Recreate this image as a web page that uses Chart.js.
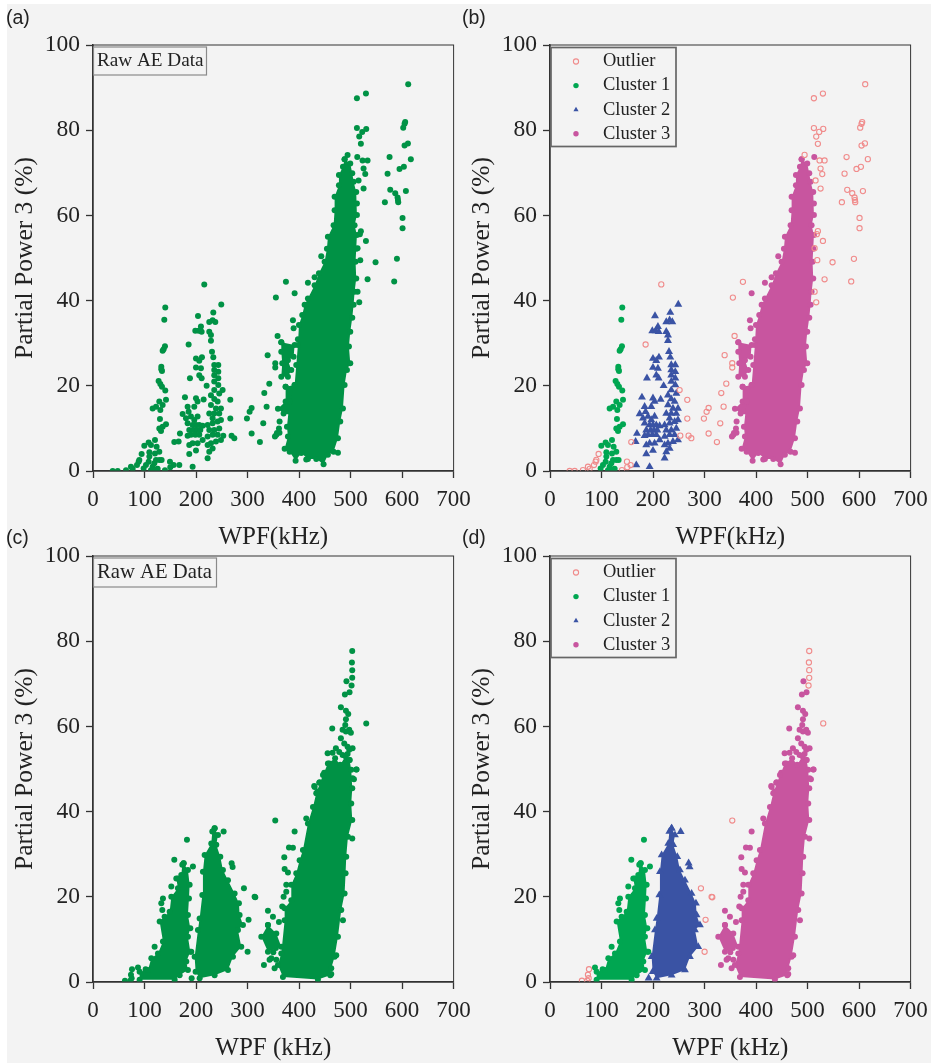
<!DOCTYPE html>
<html>
<head>
<meta charset="utf-8">
<script src="https://cdn.jsdelivr.net/npm/chart.js@4/dist/chart.umd.min.js"></script>
<style>
    html, body { margin: 0; padding: 0; background: #fff; width: 936px; height: 1063px; overflow: hidden; }
    #sheet { position: absolute; left: 7px; top: 4px; width: 924px; height: 1059px; background: #f3f3f3; }
    canvas { position: absolute; }
    .tag { position: absolute; font: 19.5px "Liberation Sans", sans-serif; color: #222; }
</style>
</head>
<body>
<div id="sheet"></div>
<canvas id="panelA" width="480" height="553" style="left:0;top:0"></canvas>
<canvas id="panelB" width="480" height="553" style="left:457px;top:0"></canvas>
<canvas id="panelC" width="480" height="553" style="left:0;top:511px"></canvas>
<canvas id="panelD" width="480" height="553" style="left:457px;top:511px"></canvas>
<div class="tag" style="left:6px;top:6px">(a)</div>
<div class="tag" style="left:462px;top:6px">(b)</div>
<div class="tag" style="left:6px;top:526px">(c)</div>
<div class="tag" style="left:462px;top:526px">(d)</div>
<script>
const wpfTicks = [0, 100, 200, 300, 400, 500, 600, 700];
const powerTicks = [0, 20, 40, 60, 80, 100];
const legendLabels = ['Outlier', 'Cluster 1', 'Cluster 2', 'Cluster 3'];

// Specimen 1 (panels a, b) - [WPF kHz, partial power %]
const outliersTop = [
    [611.9,90.8],[529.8,88.6],[512.3,87.5],[604.8,81.5],[606,81.9],[602.2,80.6],[512.3,80.5],[530.4,80.3],[522.6,79.6],[516.8,78.5],
    [520,76.8],[611.3,76.9],[604.8,76.4],[494.2,74.2],[575.7,73.7],[617,73.2],[523.3,72.9],[533,72.9],[525.2,71],[603.5,71.4],
    [595,70.9],[528.5,69.7],[571.8,69.8],[515.5,68.2],[525.2,66.3],[607.4,65.7],[577,66],[586.7,65.2],[591.2,64.2],[591.9,63.6],
    [592.5,63.1],[566.6,63.1],[600.9,59.4],[600.9,57],[520,56.3],[518,55.6],[529.8,54],[513.6,52.3],[590,49.8],[548.5,49],
    [518.8,49.5],[533,45],[584.7,44.5],[216,43.8],[374.5,44.4],[355,40.7],[513.6,42.1],[516.8,39.6],[358.3,31.7],[185.6,29.7],
    [339,27.2],[353.8,25.3],[353.8,24.3],[342.2,20.5],[251.6,19],[332.5,18.3],[266.5,16.7],[337,15.1],[307.9,14.8],[304,13.9],
    [298.8,12.3],[266.5,12.3],[330.5,11.2],[307.9,8.8],[252.9,8.3],[269,8.3],[274.3,7.7],[324,6.8],[157.8,6.8],[94.4,4],
    [89.9,2.6],[88.6,2.2],[85.4,1.4],[73.7,1],[77,0.5],[64,0.2],[47.9,0],[38.2,0],[149.4,2.2],[156.5,1.4],[150,0.9],[139.7,0.2]
];
const cluster1Top = [
    [140.3,38.4],[138.4,35.5],[139.7,29.3],[137.1,28.6],[135.2,28.2],[132.6,24.5],[132.6,23.9],[133.9,23.5],[127.4,21.1],[130.7,20.4],
    [133.9,19.8],[140.3,18.9],[141.7,16.7],[128.7,16.3],[135.2,15.5],[122.4,15.1],[115.8,14.7],[130.7,14.3],[130,12.2],[141.7,11],
    [135.2,10.4],[128.7,10],[132,9.4],[120.3,7.3],[108,6.7],[99.6,5.9],[112.5,6.1],[123.5,5.7],[109.4,4.4],[128.7,4.5],
    [120.3,4.1],[133.2,2.6],[122.3,2.6],[108,2.2],[102.8,1.4],[98.3,0.6],[115.8,1],[125.5,0.5],[112.5,0.2],[120.3,0.2],
    [109.4,3.4],[128.7,2.6],[119,1.8]
];
const cluster2Top = [
    [249,39.1],[233.5,37.2],[203.8,36.4],[232.2,35.4],[225.7,35],[237.4,35],[209.5,33.9],[198.6,32.9],[205,32.9],[210.9,32.7],
    [225.7,32.7],[229,31.9],[229,30.6],[231,28],[233.5,26.7],[211.5,26.7],[199.9,26.4],[206.3,25.9],[235.4,24.9],[243.2,24.9],
    [199.9,24.3],[209.5,24.1],[235.4,23.7],[243.2,23.3],[206.3,22.5],[235.4,22.5],[243.2,21.8],[188.2,21.8],[210.9,21.8],[235.4,21],
    [243.2,20.2],[220.6,20],[235.4,19],[245.1,18.2],[229,17.8],[178.5,17.3],[214.8,16.8],[199.9,17.1],[235.4,16.9],[241.9,16.3],
    [203,16.3],[183.7,15.1],[196.6,15.1],[229,15.5],[238.7,14.7],[248.4,14.7],[185.6,13.9],[174,13.4],[225.7,13.5],[235.4,13.5],
    [245.1,13.5],[168.8,8.8],[166.2,6.9],[180.5,12.4],[190.2,12.8],[183.7,11.2],[196.6,12],[203,12.8],[193.4,10.8],[199.9,10.8],
    [206.3,10.8],[186.9,9.6],[195.3,9.6],[201.8,9.6],[208.3,9.6],[190.2,8.5],[198.6,8.5],[183.7,8.3],[206.3,8.5],[193.4,6.5],
    [203,6.5],[186.9,6.1],[212.8,7.3],[186.9,4],[199.9,4.8],[167.5,1.4],[193.4,1],[212.8,10.6],[222.5,10.8],[232.2,11.2],
    [241.9,11.6],[248.4,12],[225.7,9.6],[235.4,9.6],[245.1,10],[222.5,8.1],[232.2,8.5],[241.9,8.5],[248.4,7.3],[238.7,6.9],
    [229,6.5],[222.5,6.1],[232.2,5.3],[225.7,4.5],[222.5,3],[232.2,12.4]
];
const cluster3TopEdge = [
    [488.4,73.2],[499.4,72.2],[503.3,69.9],[505.9,67.9],[511,65.5],[512.3,62.8],[512.3,60.1],[507.8,57.7],[512.3,55.4],[511,52.2],
    [509.7,49.1],[511,45.2],[507.8,42.1],[505.9,39],[503.3,36],[499.4,32.7],[496.8,29.2],[499.4,25.3],[493,23.7],[488.4,20.2],
    [485.2,14.7],[480,11.6],[475.5,7.7],[467,4.5],[456,3.8],[447.6,1.6],[433.4,2.8],[417.2,2.8],[404.3,4.2],[393.3,2.4],
    [381.7,4.5],[372,5.2],[378.4,8.1],[376.5,10.4],[381.7,16.3],[391.4,20.2],[394.6,24.9],[397.8,29.6],[399.8,34.3],[406.2,36.6],
    [410.8,39],[417.2,40.5],[430.2,43.6],[438.6,46.4],[449.6,49.1],[454.1,52.2],[456,55],[467,57.7],[469,61.2],[469,64.4],
    [477.4,67.1],[477.4,69.5],[485.2,71.4],[488.4,73.2]
];
const cluster3TopLobeHigh = [
    [365.5,30.2],[391.4,29.6],[389.4,26.8],[378.4,26],[384.9,23.7],[378.4,22.1],[365.5,22.1],[367.4,25.3],[365.5,28],[365.5,30.2]
];
const cluster3TopLobeLow = [
    [373.9,19.8],[391.4,20.2],[388.1,13.1],[370,13.5],[359,14.6],[373.9,16.3],[373.9,19.8]
];
const cluster3TopDots = [
    [443.1,50.4],[417.2,44.2],[430.2,45.5],[391.4,41.7],[513,73.7],[388.1,35.4],[389.4,33.5],[397.8,30.9],[362.2,11.6],[361,10],
    [357.1,8.9],[353.2,8.1],[475.5,4.3],[414,2.7],[362,9],[356,8.5]
];

// Specimen 2 (panels c, d)
const outliersBottom = [
    [503.2,77.7],[502.6,75],[503.2,73.2],[503.2,71.4],[501.9,69.6],[530.4,60.7],[353.8,37.9],[293,22],[313.7,20],[315,19.9],
    [302,14.6],[300.1,7.1],[75.7,3],[73.7,1.7],[62,0.3],[72.4,0.3],[75,0.9]
];
const cluster1BottomEdge = [
    [175.9,27.9],[184.3,26.3],[187.6,22.8],[186.3,19.6],[184.3,15.7],[188.9,12.6],[184.3,10.6],[188.9,7.1],[181.1,4.8],[184.3,2.8],
    [168.2,1.6],[158.5,0.5],[90.5,0.5],[90.5,2.4],[106.7,2.8],[113.2,5.6],[126.1,6.7],[135.8,9.5],[129.4,14.2],[139,15.3],
    [148.8,16.5],[152,20],[164.9,22],[161.7,24.3],[171.4,25.1],[173.3,27.5],[175.9,27.9]
];
const cluster1BottomDots = [
    [182.4,33.4],[157.8,28.7],[194,27.1],[152,22.4],[164.9,24.3],[135.8,19.6],[132.6,18.5],[134.5,16.9],[119.6,8.3],[190.8,7.1],
    [87.3,3.4],[102.2,3]
];
const cluster2BottomEdge = [
    [236.1,36.1],[242.6,34.5],[239.3,32.2],[247.1,29.4],[252.2,26.3],[262,23.9],[274.9,20.8],[283.3,18.5],[284.6,15.7],[291.1,13.4],
    [281.4,12.2],[287.8,8.3],[271.7,5.9],[262,2.8],[236.1,1.6],[207,0.9],[199.2,2.4],[197.3,5.9],[203.7,12.2],[207,14.9],
    [212.2,20.4],[213.4,25.9],[216.7,29.8],[229.6,32.5],[231.6,35.3],[236.1,36.1]
];
const cluster2BottomDots = [[253.6,35.3],[269.1,27.9],[191.5,0.9],[271,27]];
const cluster3BottomEdge = [
    [498.1,52.1],[501.3,49.8],[503.3,45.5],[501.3,41.9],[503.3,38],[494.9,34.1],[491.6,29.4],[490.3,25.5],[488.4,20.8],[481.9,16.9],
    [475.5,10.6],[469,5.9],[462.5,3.2],[460.6,1.6],[436.6,0.6],[368.7,1.2],[359,4],[365.5,6.7],[372,14.5],[372,17.3],
    [384.9,19.2],[384.9,22.8],[394.6,25.5],[401.1,28.6],[407.5,31],[417.2,37.2],[427,41.1],[433.4,44.3],[446.4,48.6],[456,51.3],
    [470,52.5],[480,51],[490,53],[498.1,52.1]
];
const cluster3BottomLobe = [
    [339.6,13.4],[355.8,11.4],[365.5,8.3],[339.6,7.1],[326.7,10.6],[339.6,13.4]
];
const cluster3BottomDots = [
    [492,70.6],[498,68],[489,67.5],[481.2,64.5],[491,63.7],[495.5,62.9],[491,61.7],[489.7,60.3],[464.4,59.5],[484.5,59.2],
    [497.4,59.2],[491,58.8],[500.6,58.5],[481.2,57.2],[487.7,56],[494.2,55.2],[503.9,54.9],[497.4,54.5],[455.4,53.7],[465,53.8],
    [471.5,54.9],[484.5,53.3],[478,54],[494.2,53.5],[511.6,49.9],[503.9,47.8],[448.9,49.1],[458.6,51.3],[439.2,46.8],[429.5,46],
    [436,44.7],[339.6,16.7],[349.3,15.3],[361,14.1],[375.2,22.8],[370,20],[375.2,21.2],[367.4,17.7],[391.4,35.3],[380.4,31.6],
    [388.1,31.5],[371.3,29.3],[372,26.5],[378.4,25.7],[414,38.4],[430.2,45.8],[439.9,46.9],[449.6,49],[511,49.9],[506.5,47.6],
    [503.3,33.7],[485.2,14.5],[472.2,6.3],[331.8,4],[346.1,5.6],[355.8,5.2],[352.5,3.2],[342.8,5.2],[462.5,1.9],[355,8],[350,7],
    [342,9.5],[348,9]
];

const RAW_GREEN = '#009245';
const COLORS = { outlier: '#f08c8c', c1: '#00a651', c2: '#3a53a4', c3: '#c8559f' };
const PLOT = { left: 93, right: 453.6, top: 45, bottom: 471 };
const SERIF = '"Liberation Serif", serif';

function dots(data, color, style, radius) {
    return { data, pointStyle: style || 'circle', pointRadius: radius || 3, pointBackgroundColor: color, pointBorderWidth: 0, showLine: false };
}
function hollow(data) {
    return { data, pointStyle: 'circle', pointRadius: 2.6, pointBackgroundColor: 'rgba(0,0,0,0)', pointBorderColor: COLORS.outlier, pointBorderWidth: 1.1, showLine: false };
}
function blob(data, color, style) {
    // closed outline, filled inside: the core of the cloud is too dense to tell points apart
    return { data, pointStyle: style || 'circle', pointRadius: style ? 4.5 : 3, pointBackgroundColor: color, pointBorderWidth: 0, showLine: true, borderWidth: 0, borderColor: color, backgroundColor: color, fill: 'shape', tension: 0 };
}

// Legend / caption box in the top left of a plot
const insetBox = {
    id: 'insetBox',
    afterDraw(chart, args, opts) {
        const ctx = chart.ctx;
        const a = chart.chartArea;
        ctx.save();
        ctx.strokeStyle = '#333';
        ctx.lineWidth = 1;
        ctx.strokeRect(a.left, a.top, a.width, a.height);
        ctx.fillStyle = '#222';
        ctx.textBaseline = 'middle';
        if (opts.caption) {
            ctx.strokeStyle = '#8a8a8a';
            ctx.lineWidth = 1.2;
            ctx.strokeRect(a.left + 0.5, a.top + 2, opts.captionWidth, opts.captionHeight);
            ctx.font = opts.captionFont;
            ctx.fillText(opts.caption, a.left + 4, a.top + 2 + opts.captionHeight / 2);
        }
        if (opts.legend) {
            ctx.strokeStyle = '#666';
            ctx.lineWidth = 1.7;
            ctx.strokeRect(a.left + 1, a.top + 2.5, 125, opts.legendHeight);
            ctx.font = '18.5px ' + SERIF;
            const styles = [
                { pointStyle: 'circle', radius: 2.6, borderWidth: 1.1 },
                { pointStyle: 'circle', radius: 2.7, borderWidth: 0 },
                { pointStyle: 'triangle', radius: 3, borderWidth: 0 },
                { pointStyle: 'circle', radius: 2.7, borderWidth: 0 }
            ];
            const fills = ['rgba(0,0,0,0)', COLORS.c1, COLORS.c2, COLORS.c3];
            legendLabels.forEach((label, i) => {
                const y = a.top + 16.5 + i * 24.1;
                ctx.fillStyle = fills[i];
                ctx.strokeStyle = COLORS.outlier;
                ctx.lineWidth = styles[i].borderWidth;
                Chart.helpers.drawPoint(ctx, { ...styles[i], rotation: 0 }, a.left + 26, y);
                ctx.fillStyle = '#222';
                ctx.fillText(label, a.left + 53, y);
            });
        }
        ctx.restore();
    }
};

function makePanel(id, datasets, xTitle, inset) {
    new Chart(document.getElementById(id), {
        type: 'scatter',
        data: { datasets },
        plugins: [insetBox],
        options: {
            responsive: false,
            animation: false,
            layout: { padding: { top: PLOT.top, right: 480 - PLOT.right, left: 0, bottom: 0 } },
            plugins: { legend: { display: false }, tooltip: { enabled: false }, insetBox: inset },
            scales: {
                x: {
                    type: 'linear', min: 0, max: 700,
                    afterBuildTicks: s => { s.ticks = wpfTicks.map(v => ({ value: v })); },
                    afterFit: s => { s.height = 553 - PLOT.bottom; s.paddingLeft = s.paddingRight = 0; },
                    ticks: { color: '#222', font: { family: SERIF, size: 23 }, padding: 8, maxRotation: 0, autoSkip: false },
                    grid: { drawOnChartArea: false, tickLength: 7, tickColor: '#333', tickWidth: 1.3 },
                    border: { color: '#333', width: 1.5 },
                    title: { display: true, text: xTitle, color: '#222', font: { family: SERIF, size: 25 }, padding: { top: 0, bottom: 1 } }
                },
                y: {
                    type: 'linear', min: 0, max: 100,
                    afterBuildTicks: s => { s.ticks = powerTicks.map(v => ({ value: v })); },
                    afterFit: s => { s.width = PLOT.left; s.paddingTop = s.paddingBottom = 0; },
                    ticks: { color: '#222', font: { family: SERIF, size: 23.5 }, padding: 6, autoSkip: false },
                    grid: { drawOnChartArea: false, tickLength: 7, tickColor: '#333', tickWidth: 1.3 },
                    border: { color: '#333', width: 1.5 },
                    title: { display: true, text: 'Partial Power 3 (%)', color: '#222', font: { family: SERIF, size: 25.5 }, padding: { top: 10, bottom: 0 } }
                }
            }
        }
    });
}

makePanel('panelA', [
    blob(cluster3TopEdge, RAW_GREEN), blob(cluster3TopLobeHigh, RAW_GREEN), blob(cluster3TopLobeLow, RAW_GREEN),
    dots(cluster3TopDots, RAW_GREEN), dots(cluster2Top, RAW_GREEN), dots(cluster1Top, RAW_GREEN), dots(outliersTop, RAW_GREEN)
], 'WPF(kHz)', { caption: 'Raw AE Data', captionWidth: 113, captionHeight: 28, captionFont: '19.2px ' + SERIF });

makePanel('panelB', [
    hollow(outliersTop),
    dots(cluster1Top, COLORS.c1), dots(cluster2Top, COLORS.c2, 'triangle', 4.6),
    blob(cluster3TopEdge, COLORS.c3), blob(cluster3TopLobeHigh, COLORS.c3), blob(cluster3TopLobeLow, COLORS.c3), dots(cluster3TopDots, COLORS.c3)
], 'WPF(kHz)', { legend: true, legendHeight: 99 });

makePanel('panelC', [
    blob(cluster3BottomEdge, RAW_GREEN), blob(cluster3BottomLobe, RAW_GREEN), blob(cluster2BottomEdge, RAW_GREEN), blob(cluster1BottomEdge, RAW_GREEN),
    dots(cluster3BottomDots, RAW_GREEN), dots(cluster2BottomDots, RAW_GREEN), dots(cluster1BottomDots, RAW_GREEN), dots(outliersBottom, RAW_GREEN)
], 'WPF (kHz)', { caption: 'Raw AE Data', captionWidth: 123, captionHeight: 29, captionFont: '20.7px ' + SERIF });

makePanel('panelD', [
    hollow(outliersBottom),
    blob(cluster1BottomEdge, COLORS.c1), dots(cluster1BottomDots, COLORS.c1),
    blob(cluster2BottomEdge, COLORS.c2, 'triangle'), dots(cluster2BottomDots, COLORS.c2, 'triangle', 4.6),
    blob(cluster3BottomEdge, COLORS.c3), blob(cluster3BottomLobe, COLORS.c3), dots(cluster3BottomDots, COLORS.c3)
], 'WPF (kHz)', { legend: true, legendHeight: 99 });
</script>
</body>
</html>
